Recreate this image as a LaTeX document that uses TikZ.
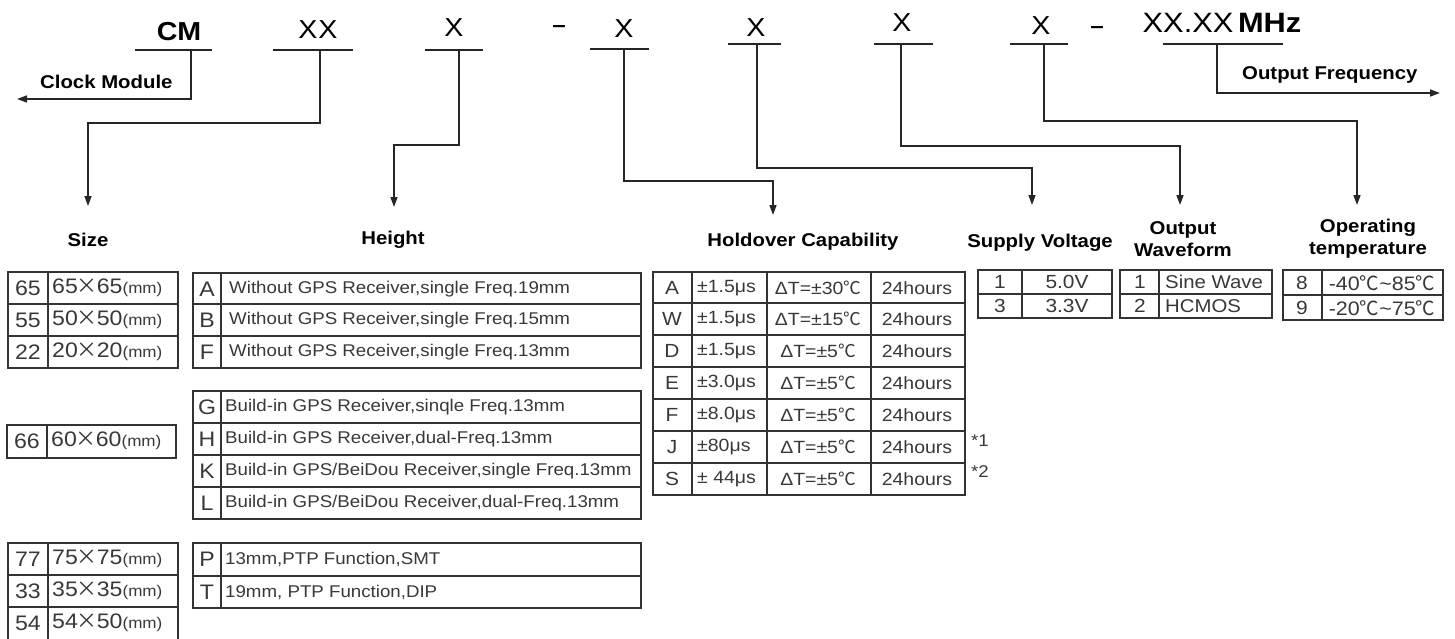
\documentclass[tikz,border=0pt]{standalone}
\usepackage{fontspec}
\setmainfont[FakeStretch=1.1]{Liberation Sans}
\newfontfamily\cjk{Noto Sans CJK SC}
\usetikzlibrary{arrows.meta}
\newcommand\dC{{\cjk ℃}}
\newcommand\tms{{\cjk\kern-1pt ×\kern-1pt}}
\newcommand\mmu{{\fontsize{15.5}{15.5}\selectfont(mm)}}
\begin{document}
\begin{tikzpicture}[x=1pt,y=-1pt,
  conn/.style={line width=1.5pt, draw=black!85},
  arr/.style={conn,-{Triangle[length=10pt,width=7pt]}},
  uline/.style={line width=1.6pt, draw=black!85},
  tbl/.style={line width=1.4pt, draw=black!80},
  code/.style={font=\fontsize{26}{26}\selectfont, inner sep=0pt, anchor=base},
  hdr/.style={font=\bfseries\fontsize{18.5}{22}\selectfont, align=center, inner sep=0pt},
  big/.style={font=\fontsize{21}{21}\selectfont, text=black!78, inner sep=0pt},
  mid/.style={font=\fontsize{19}{19}\selectfont, text=black!78, inner sep=0pt},
  txt/.style={font=\fontsize{17.7}{18}\selectfont, text=black!78, inner sep=0pt},
  htxt/.style={font=\fontsize{17}{18}\selectfont, text=black!78, inner sep=0pt, anchor=west},
  txtl/.style={txt, anchor=west}]
\useasboundingbox (0,0) rectangle (1455,639);

% ---------- code line ----------
\node[code, font=\bfseries\fontsize{26}{26}\selectfont] (cCM) at (179,41) {CM};
\node[code] (cXX) at (318,39) {X\kern1pt X};
\node[code] (cH) at (454,37) {X};
\node[code, font=\bfseries\fontsize{22}{22}\selectfont] (d1) at (559,33) {–};
\node[code] (cHo) at (624,38) {X};
\node[code] (cSV) at (756,37) {X};
\node[code] (cOW) at (902,32) {X};
\node[code] (cOT) at (1041,35) {X};
\node[code, font=\bfseries\fontsize{22}{22}\selectfont] (d2) at (1097,34) {–};
\node[code, font=\fontsize{28}{28}\selectfont] (cF) at (1222,33) {XX.XX\,\textbf{MHz}};

\draw[uline] (135,50) -- (212,50);
\draw[uline] (273,50) -- (353,50);
\draw[uline] (425,50) -- (483,50);
\draw[uline] (590,49) -- (649,49);
\draw[uline] (728,44) -- (781,44);
\draw[uline] (874,44) -- (933,44);
\draw[uline] (1010,44) -- (1068,44);
\draw[uline] (1163,44) -- (1283,44);

\coordinate (uCM) at (191,50);
\coordinate (uXX) at (320,50);
\coordinate (uH) at (459,50);
\coordinate (uHo) at (624,49);
\coordinate (uSV) at (757,44);
\coordinate (uOW) at (901,44);
\coordinate (uOT) at (1044,44);
\coordinate (uF) at (1217,44);

\coordinate (tCM) at (17,99);
\coordinate (tF) at (1440,93);
\coordinate (tSize) at (88,206);
\coordinate (tH) at (394,207);
\coordinate (tHo) at (773,215);
\coordinate (tSV) at (1032,205);
\coordinate (tOW) at (1180,205);
\coordinate (tOT) at (1357,205);

\node[hdr, anchor=west] (lCM) at (40,82) {Clock Module};
\node[hdr, anchor=west] (lF) at (1242,75) {Output Frequency};

\draw[arr] (uCM) |- (tCM);
\draw[arr] (uF) |- (tF);
\draw[arr] (uXX) -- ++(0,73) -| (tSize);
\draw[arr] (uH) -- ++(0,95) -| (tH);
\draw[arr] (uHo) -- ++(0,132) -| (tHo);
\draw[arr] (uSV) -- ++(0,124) -| (tSV);
\draw[arr] (uOW) -- ++(0,102) -| (tOW);
\draw[arr] (uOT) -- ++(0,77) -| (tOT);

% ---------- headers ----------
\node[hdr] (hSize) at (88,240) {Size};
\node[hdr] (hH) at (393,240) {Height};
\node[hdr] (hHo) at (803,242) {Holdover Capability};
\node[hdr] (hSV) at (1040,243) {Supply Voltage};
\node[hdr] (hOW) at (1183,239) {Output\\Waveform};
\node[hdr] (hOT) at (1368,239) {Operating\\temperature};

% ---------- Size tables ----------
\draw[tbl] (8,272) rectangle (178,368) (8,304) -- (178,304) (8,336) -- (178,336) (48,272) -- (48,368);
\foreach \y/\a/\b/\c [count=\i] in {288/65/65/65, 320/55/50/50, 352/22/20/20}{
  \node[big] (sa\i) at (28,\y) {\a};
  \node[big, anchor=west] (sb\i) at (52,\y) {\b\tms\c\mmu};
}
\draw[tbl] (7,425) rectangle (176,458) (47,425) -- (47,458);
\node[big] (sa4) at (27,441) {66};
\node[big, anchor=west] (sb4) at (51,441) {60\tms 60\mmu};
\draw[tbl] (8,543) rectangle (178,640) (8,575) -- (178,575) (8,607) -- (178,607) (48,543) -- (48,639);
\foreach \y/\a/\b/\c [count=\i from 5] in {559/77/75/75, 591/33/35/35, 623/54/54/50}{
  \node[big] (sa\i) at (28,\y) {\a};
  \node[big, anchor=west] (sb\i) at (52,\y) {\b\tms\c\mmu};
}

% ---------- Height tables ----------
\draw[tbl] (193,273) rectangle (641,368) (193,304) -- (641,304) (193,336) -- (641,336) (221,273) -- (221,368);
\foreach \y/\a/\b [count=\i] in {289/A/{Without GPS Receiver,single Freq.19mm},
                                  320/B/{Without GPS Receiver,single Freq.15mm},
                                  352/F/{Without GPS Receiver,single Freq.13mm}}{
  \node[big] (ha\i) at (207,\y) {\a};
  \node[htxt] (hb\i) at (229,\y) {\b};
}
\draw[tbl] (193,391) rectangle (641,519) (193,423) -- (641,423) (193,455) -- (641,455) (193,487) -- (641,487) (221,391) -- (221,519);
\foreach \y/\a/\b [count=\i from 4] in {407/G/{Build-in GPS Receiver,sinqle Freq.13mm},
                                  439/H/{Build-in GPS Receiver,dual-Freq.13mm},
                                  471/K/{Build-in GPS/BeiDou Receiver,single Freq.13mm},
                                  503/L/{Build-in GPS/BeiDou Receiver,dual-Freq.13mm}}{
  \node[big] (ha\i) at (207,\y) {\a};
  \node[htxt] (hb\i) at (225,\y) {\b};
}
\draw[tbl] (193,543) rectangle (641,608) (193,576) -- (641,576) (221,543) -- (221,608);
\node[big] (ha8) at (207,559) {P};
\node[htxt] (hb8) at (225,559) {13mm,PTP Function,SMT};
\node[big] (ha9) at (207,592) {T};
\node[htxt] (hb9) at (225,592) {19mm, PTP Function,DIP};

% ---------- Holdover ----------
\draw[tbl] (653,272) rectangle (965,495);
\foreach \y in {303,335,367,399,431,463}{\draw[tbl] (653,\y) -- (965,\y);}
\foreach \x in {692,767,871}{\draw[tbl] (\x,272) -- (\x,495);}
\foreach \y/\a/\b/\c [count=\i] in {288/A/{±1.5μs}/{ΔT=±30\dC}, 319/W/{±1.5μs}/{ΔT=±15\dC},
   351/D/{±1.5μs}/{ΔT=±5\dC}, 383/E/{±3.0μs}/{ΔT=±5\dC}, 415/F/{±8.0μs}/{ΔT=±5\dC},
   447/J/{±80μs}/{ΔT=±5\dC}, 479/S/{± 44μs}/{ΔT=±5\dC}}{
  \node[mid] (oa\i) at (672,\y) {\a};
  \node[txtl] (ob\i) at (697,\y) {\b};
  \node[txt] (oc\i) at (818,\y) {\c};
  \node[txt] (od\i) at (917,\y) {24hours};
}
\node[txt, font=\fontsize{17}{17}\selectfont] (n1) at (980,441) {*1};
\node[txt, font=\fontsize{17}{17}\selectfont] (n2) at (980,472) {*2};

% ---------- Supply Voltage ----------
\draw[tbl] (978,270) rectangle (1112,318) (978,294) -- (1112,294) (1022,270) -- (1022,318);
\node[mid] (va1) at (1000,282) {1};
\node[mid] (vb1) at (1067,282) {5.0V};
\node[mid] (va2) at (1000,306) {3};
\node[mid] (vb2) at (1067,306) {3.3V};

% ---------- Output Waveform ----------
\draw[tbl] (1120,270) rectangle (1272,318) (1120,294) -- (1272,294) (1159,270) -- (1159,318);
\node[mid] (wa1) at (1140,282) {1};
\node[mid, anchor=west, font=\fontsize{18.5}{19}\selectfont] (wb1) at (1165,282) {Sine Wave};
\node[mid] (wa2) at (1140,306) {2};
\node[mid, anchor=west, font=\fontsize{18.5}{19}\selectfont] (wb2) at (1165,306) {HCMOS};

% ---------- Operating temperature ----------
\draw[tbl] (1283,270) rectangle (1443,320) (1283,295) -- (1443,295) (1322,270) -- (1322,320);
\node[mid] (ta1) at (1302,283) {8};
\node[txt, font=\fontsize{19.5}{20}\selectfont] (tb1) at (1382,283) {-40\dC\textasciitilde 85\dC};
\node[mid] (ta2) at (1302,308) {9};
\node[txt, font=\fontsize{19.5}{20}\selectfont] (tb2) at (1382,308) {-20\dC\textasciitilde 75\dC};
\end{tikzpicture}
\end{document}
